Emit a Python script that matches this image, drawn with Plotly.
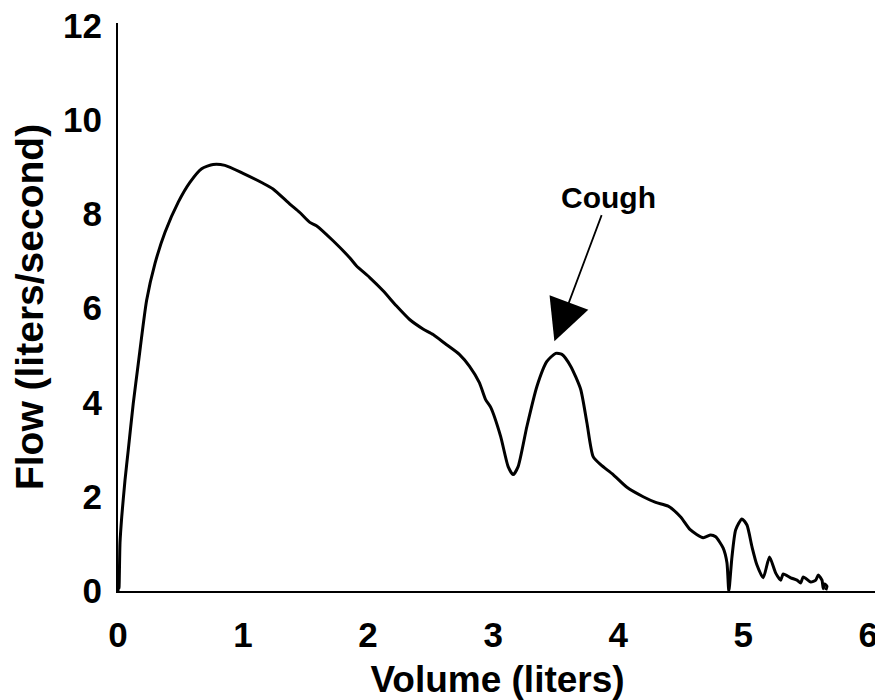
import plotly.graph_objects as go

# flow-volume loop (volume in liters, flow in liters/second)
volume = [0.0, 0.0, 0.008, 0.016, 0.03, 0.056, 0.082, 0.122, 0.162, 0.229, 0.296,
          0.376, 0.482, 0.575, 0.669, 0.761, 0.855, 1.0, 1.16, 1.24, 1.374, 1.454, 1.534,
          1.587, 1.72, 1.853, 1.906, 2.013, 2.12, 2.226, 2.332, 2.439, 2.52, 2.625, 2.73,
          2.81, 2.89, 2.94, 2.98, 3.06, 3.12, 3.16, 3.2, 3.27, 3.35, 3.43, 3.5, 3.55,
          3.62, 3.7, 3.75, 3.8, 3.86, 3.96, 4.07, 4.2, 4.3, 4.4, 4.5, 4.576, 4.68, 4.74,
          4.78, 4.84, 4.87, 4.885, 4.91, 4.94, 4.99, 5.03, 5.07, 5.11, 5.16, 5.21, 5.26,
          5.3, 5.32, 5.38, 5.43, 5.46, 5.48, 5.54, 5.58, 5.6, 5.63, 5.64, 5.65, 5.67, 5.66]
flow = [0.0, 0.5, 0.06, 1.02, 1.58, 2.35, 2.99, 3.98, 4.82, 6.17, 6.95,
        7.61, 8.25, 8.67, 8.96, 9.05, 9.03, 8.86, 8.65, 8.53, 8.21, 8.03, 7.82,
        7.75, 7.43, 7.07, 6.9, 6.65, 6.37, 6.05, 5.76, 5.56, 5.44, 5.23, 5.02,
        4.77, 4.42, 4.06, 3.9, 3.28, 2.64, 2.47, 2.64, 3.49, 4.34, 4.87, 5.04, 5.02,
        4.77, 4.28, 3.57, 2.85, 2.68, 2.47, 2.2, 2.0, 1.88, 1.8, 1.57, 1.3, 1.13, 1.19,
        1.15, 0.91, 0.6, 0.0, 0.72, 1.3, 1.53, 1.4, 0.94, 0.55, 0.28, 0.72, 0.38,
        0.23, 0.36, 0.28, 0.23, 0.17, 0.3, 0.19, 0.23, 0.34, 0.23, 0.05, 0.15, 0.1, 0.02]

x_ticks = [0, 1, 2, 3, 4, 5, 6]
y_ticks = [0, 2, 4, 6, 8, 10, 12]

font_family = "Arial, Liberation Sans, sans-serif"

fig = go.Figure()
fig.add_trace(go.Scatter(x=volume, y=flow, mode='lines',
                         line=dict(color='black', width=3, shape='spline', smoothing=0.6),
                         showlegend=False))

fig.add_annotation(x=3.49, y=5.3, text="Cough",
                   ax=54, ay=-144,
                   showarrow=True, arrowhead=2, arrowwidth=1.8, arrowsize=4.6,
                   arrowcolor='black',
                   font=dict(family=font_family, size=30, color='black', weight='bold'))

# the page body adds an 8px margin, so the figure is 8px smaller than the window
fig.update_layout(width=875, height=692,
                  margin=dict(l=110, r=6, t=15, b=109),
                  plot_bgcolor='white', paper_bgcolor='white',
                  font=dict(family=font_family, color='black'))

fig.update_xaxes(range=[0, 6.07], tickvals=x_ticks, showgrid=False, zeroline=False,
                 showline=True, linecolor='black', linewidth=2, automargin=False,
                 ticks='', ticklabelstandoff=12, ticklabeloverflow='allow',
                 tickfont=dict(family=font_family, size=35, weight='bold'),
                 title=dict(text="Volume (liters)", standoff=19,
                            font=dict(family=font_family, size=37, weight='bold')))
fig.update_yaxes(range=[0, 12.05], tickvals=y_ticks, showgrid=False, zeroline=False,
                 showline=True, linecolor='black', linewidth=2, automargin=False,
                 ticks='', ticklabelstandoff=7, ticklabeloverflow='allow',
                 tickfont=dict(family=font_family, size=35, weight='bold'),
                 title=dict(text="Flow (liters/second)", standoff=10,
                            font=dict(family=font_family, size=39, weight='bold')))

fig.write_html("out.html")
